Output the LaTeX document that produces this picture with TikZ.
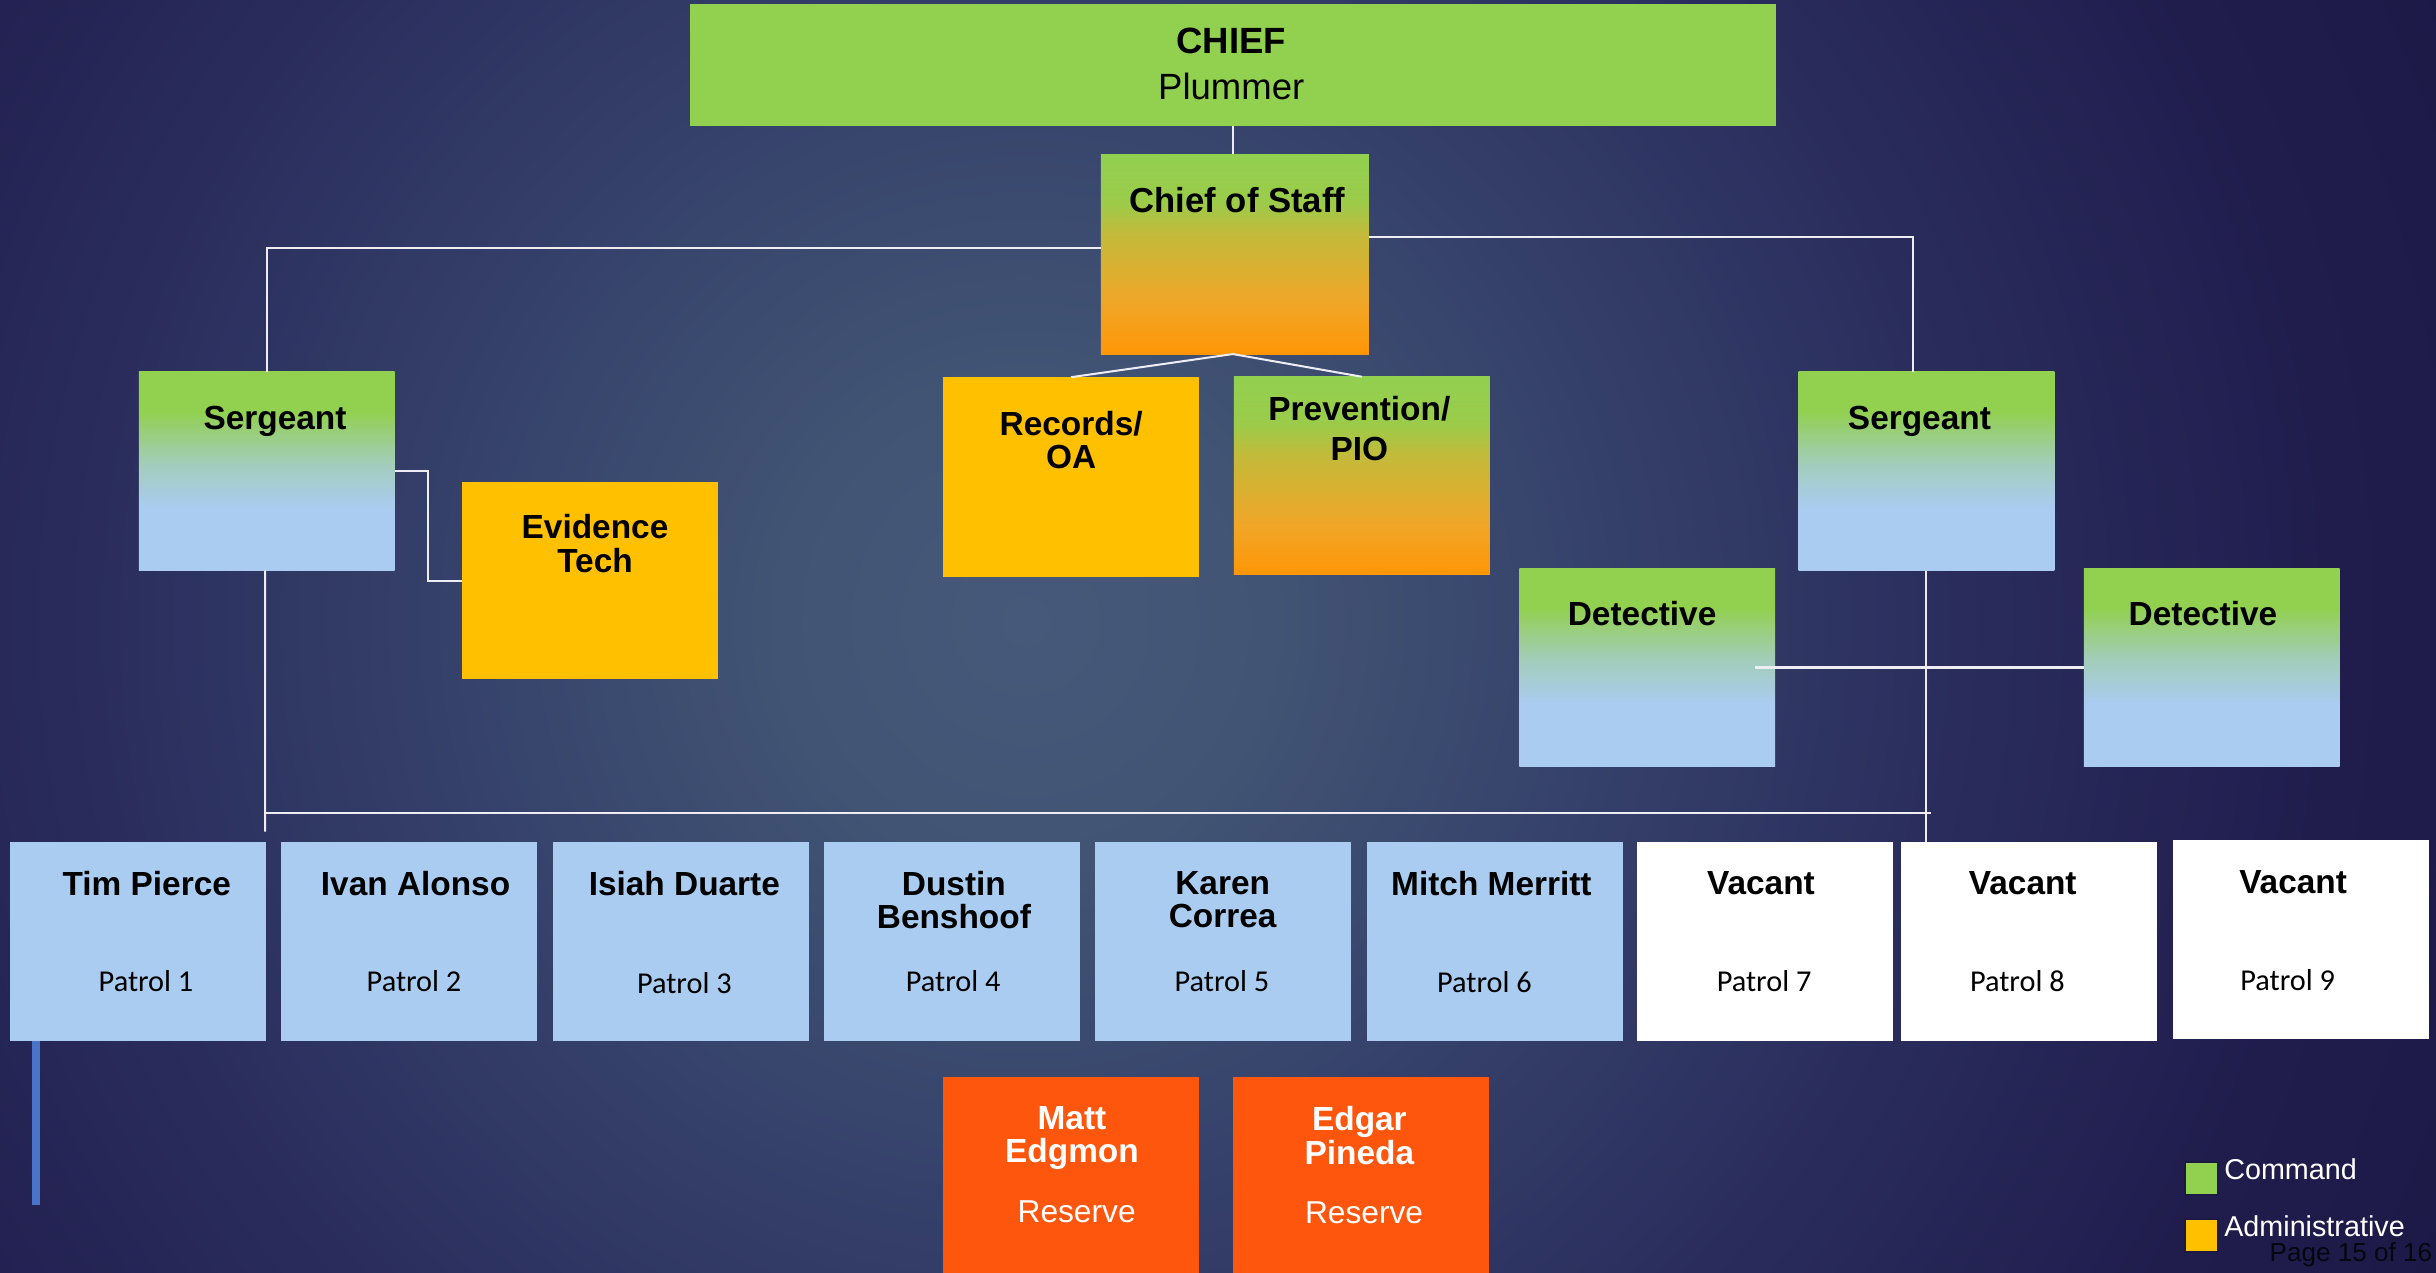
\documentclass[tikz,border=0pt]{standalone}
\usepackage{fontspec}
\setmainfont{Liberation Sans}
\newfontfamily\patrolfont{Carlito}
\usetikzlibrary{calc}

% palette
\definecolor{cmdgreen}{HTML}{92D050}
\definecolor{admyellow}{HTML}{FFC000}
\definecolor{patrolblue}{HTML}{A9CCF0}
\definecolor{reserveorange}{HTML}{FF560E}
\definecolor{linkwhite}{HTML}{EDEDF3}
\definecolor{pagegray}{HTML}{06060F}
\definecolor{rulerblue}{HTML}{4A74C8}
\definecolor{orA}{HTML}{FF9606}
\definecolor{orB}{HTML}{F0A628}
\definecolor{orC}{HTML}{C4BA3A}
\definecolor{orD}{HTML}{9CCB4A}
\definecolor{sgMid}{HTML}{A2CDBA}
\definecolor{bgA}{HTML}{46597A}
\definecolor{bgB}{HTML}{415474}
\definecolor{bgC}{HTML}{36426B}
\definecolor{bgD}{HTML}{2A2D5C}
\definecolor{bgE}{HTML}{201D4D}
\definecolor{bgF}{HTML}{1D1947}

% green-to-blue boxes (sergeants, detectives)
\pgfdeclareverticalshading{sgtshade}{100bp}{color(0bp)=(patrolblue); color(41bp)=(patrolblue); color(52bp)=(sgMid); color(65bp)=(cmdgreen); color(100bp)=(cmdgreen)}
% green-to-orange boxes (chief of staff, prevention)
\pgfdeclareverticalshading{cosshade}{100bp}{color(0bp)=(orA); color(25bp)=(orA); color(38bp)=(orB); color(55bp)=(orC); color(63bp)=(orD); color(75bp)=(cmdgreen); color(100bp)=(cmdgreen)}
% slide background glow
\pgfdeclareradialshading{bgshade}{\pgfpoint{0bp}{0bp}}{color(0bp)=(bgA); color(4bp)=(bgB); color(9bp)=(bgC); color(15bp)=(bgD); color(21bp)=(bgE); color(25bp)=(bgF); color(50bp)=(bgF)}

\tikzset{
  box/.style={rectangle, inner sep=0pt, outer sep=0pt, minimum width=164.7pt, minimum height=128pt},
  sgtbox/.style={box, shading=sgtshade},
  cosbox/.style={box, shading=cosshade},
  admbox/.style={box, fill=admyellow},
  patrolbox/.style={box, fill=patrolblue},
  vacantbox/.style={box, fill=white},
  reservebox/.style={box, fill=reserveorange, minimum height=136.6pt},
  title/.style={anchor=north, inner sep=0pt, align=center, text=black,
    font=\fontsize{21.5}{21.5}\selectfont\bfseries},
  unit/.style={anchor=base, inner sep=0pt, text=black,
    font=\patrolfont\fontsize{19.5}{19.5}\selectfont},
  link/.style={draw=linkwhite, line width=1.3pt},
  legsq/.style={rectangle, inner sep=0pt, minimum size=21pt, draw=bgF, line width=1.2pt},
  legtext/.style={anchor=base west, inner sep=0pt, text=white,
    font=\fontsize{18.5}{18.5}\selectfont},
}

\begin{document}
\begin{tikzpicture}[x=1pt, y=-1pt]
\useasboundingbox (0,0) rectangle (1568,819);

% background
\begin{scope}
  \clip (0,0) rectangle (1568,819);
  \shade[shading=bgshade] (660,400) circle (1000);
\end{scope}

% command staff
\node[box, fill=cmdgreen, minimum width=699pt, minimum height=78.3pt] (chief) at (793.5,41.8) {};
\node[anchor=base, inner sep=0pt, font=\fontsize{23.5}{23.5}\selectfont\bfseries] (chiefT) at (792.5,34.4) {CHIEF};
\node[anchor=base, inner sep=0pt, font=\fontsize{23.5}{23.5}\selectfont] (chiefN) at (792.5,64) {Plummer};

\node[cosbox, minimum width=172.5pt, minimum height=128.6pt] (cos) at (794.85,163.6) {};
\node[anchor=base, inner sep=0pt, font=\fontsize{22.3}{22.3}\selectfont\bfseries] (cosT) at (796.5,137) {Chief of Staff};

\node[admbox, minimum height=128.4pt] (records) at (689.4,307) {};
\node[title] (recordsT) at (689.5,264.5) {Records/\\OA};

\node[cosbox, minimum height=127.6pt] (prev) at (876.6,306.3) {};
\node[title, font=\fontsize{21.5}{25.7}\selectfont\bfseries] (prevT) at (875,254.8) {Prevention/\\PIO};

\node[sgtbox] (sgtL) at (171.7,303.3) {};
\node[title] (sgtLT) at (177,261.5) {Sergeant};

\node[admbox, minimum height=127.3pt] (evid) at (379.7,373.7) {};
\node[title] (evidT) at (383,331) {Evidence\\Tech};

\node[sgtbox] (sgtR) at (1240,303.3) {};
\node[title] (sgtRT) at (1235.5,261.5) {Sergeant};

\node[sgtbox] (detL) at (1060.25,429.65) {};
\node[title] (detLT) at (1057,386.8) {Detective};
\node[sgtbox] (detR) at (1423.65,429.65) {};
\node[title] (detRT) at (1418,386.8) {Detective};

% patrol line
\node[patrolbox] (p1) at (88.65,605.8) {};
\node[patrolbox] (p2) at (263.05,605.8) {};
\node[patrolbox] (p3) at (438.15,605.8) {};
\node[patrolbox] (p4) at (612.55,605.8) {};
\node[patrolbox] (p5) at (787.2,605.8) {};
\node[patrolbox] (p6) at (962.1,605.8) {};
\node[vacantbox] (p7) at (1135.9,605.8) {};
\node[vacantbox] (p8) at (1306.25,605.8) {};
\node[vacantbox] (p9) at (1480.95,604.6) {};

\node[title] (p1T) at (94.5,560.5) {Tim Pierce};
\node[title] (p2T) at (267.5,560.5) {Ivan Alonso};
\node[title] (p3T) at (440.5,560.5) {Isiah Duarte};
\node[title] (p4T) at (614,560.5) {Dustin\\Benshoof};
\node[title] (p5T) at (787,560.5) {Karen\\Correa};
\node[title] (p6T) at (960,560.5) {Mitch Merritt};
\node[title] (p7T) at (1133.5,560.5) {Vacant};
\node[title] (p8T) at (1302,560.5) {Vacant};
\node[title] (p9T) at (1476,560) {Vacant};

\node[unit] (p1U) at (94,638.3) {Patrol 1};
\node[unit] (p2U) at (266.5,638.3) {Patrol 2};
\node[unit] (p3U) at (440.5,639.4) {Patrol 3};
\node[unit] (p4U) at (613.5,638.3) {Patrol 4};
\node[unit] (p5U) at (786.5,638.3) {Patrol 5};
\node[unit] (p6U) at (955.5,638.8) {Patrol 6};
\node[unit] (p7U) at (1135.5,638.3) {Patrol 7};
\node[unit] (p8U) at (1298.5,638.3) {Patrol 8};
\node[unit] (p9U) at (1472.5,637.8) {Patrol 9};

% reserves
\node[reservebox] (r1) at (689.1,761.7) {};
\node[reservebox] (r2) at (876.3,761.7) {};
\node[title, text=white] (r1T) at (690,712) {Matt\\Edgmon};
\node[title, text=white] (r2T) at (875,712) {Edgar\\Pineda};
\node[anchor=base, inner sep=0pt, text=white, font=\fontsize{20.4}{20.4}\selectfont] (r1U) at (693,787) {Reserve};
\node[anchor=base, inner sep=0pt, text=white, font=\fontsize{20.4}{20.4}\selectfont] (r2U) at (878,787.8) {Reserve};

% reporting lines
\draw[link] (chief.south) -- (chief.south |- cos.north);
\draw[link] ([yshift=3.8pt]cos.west) -| (sgtL.north);
\draw[link] ([yshift=10.8pt]cos.east) -| ([xshift=-8.7pt]sgtR.north);
\draw[link] ([xshift=-1.3pt]cos.south) -- (records.north);
\draw[link] ([xshift=-1.3pt]cos.south) -- (prev.north);
\draw[link] (sgtL.east) -- ++(21.5,0) |- (evid.west);

\coordinate (barL) at (170.6,523.5);
\coordinate (barR) at (1242.7,523.5);
\coordinate (barTail) at (170.6,535.3);
\draw[link] ([xshift=-1.1pt]sgtL.south) -- (barTail);
\draw[link] (barL) -- (barR);
\draw[link] (sgtR.south) -- (sgtR.south |- p8.north);
\draw[link] ([xshift=-12.8pt]detL.east) -- (detR.west);

% blue rule below the first patrol box
\coordinate (ruleEnd) at (23.2,775.6);
\draw[rulerblue, line width=4.6pt] (p1.south -| ruleEnd) -- (ruleEnd);

% legend
\node[legsq, fill=cmdgreen] (legC) at (1417,758.7) {};
\node[legtext] (legCT) at (1431.5,759.1) {Command};
\node[legsq, fill=admyellow] (legA) at (1417,795.2) {};
\node[legtext] (legAT) at (1431.5,795.6) {Administrative};
\node[anchor=base west, inner sep=0pt, text=pagegray, font=\fontsize{16.8}{16.8}\selectfont] (page) at (1460.7,812.1) {Page 15 of 16};

\end{tikzpicture}
\end{document}
